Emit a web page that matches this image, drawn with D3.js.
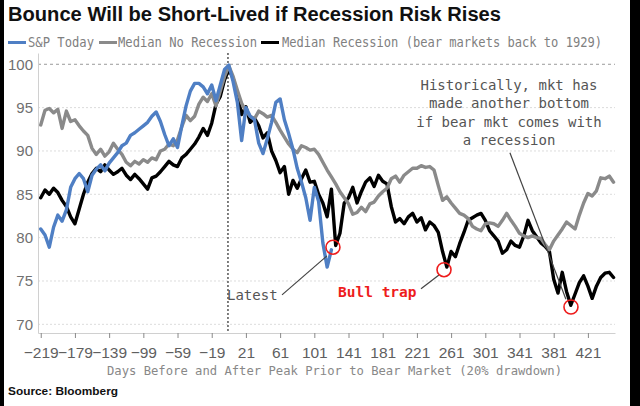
<!DOCTYPE html>
<html><head><meta charset="utf-8">
<script src="https://cdn.jsdelivr.net/npm/d3@7/dist/d3.min.js"></script>
<style>html,body{margin:0;padding:0;background:#fff;}svg{display:block}</style>
</head><body><svg id="chart" width="640" height="406"></svg>
<script>
// ---- data ----
const startDay = -219, stepDays = 5;
const xTickValues = [-219,-179,-139,-99,-59,-19,21,61,101,141,181,221,261,301,341,381,421];
const yTickValues = [70,75,80,85,90,95,100];
const seriesNames = ["S&P Today","Median No Recession","Median Recession (bear markets back to 1929)"];
const spToday = [81.0,80.3,78.9,81.2,82.6,81.9,83.2,85.8,86.8,87.4,
 86.8,85.3,87.2,87.9,88.4,87.7,88.6,89.2,89.8,90.6,
 90.9,91.8,92.1,92.5,92.9,93.3,94.0,94.5,93.4,91.9,
 90.6,91.4,90.4,92.9,95.2,96.9,97.8,97.8,97.4,96.6,
 97.6,95.8,97.6,99.4,99.9,98.0,95.6,91.2,95.0,94.0,
 93.6,90.9,89.7,91.4,93.3,95.6,96.0,93.6,92.0,90.2,
 88.0,86.4,84.6,82.0,85.8,84.2,79.4,76.6,78.6];
const medianNoRecession = [93.0,94.7,94.9,94.4,94.8,92.6,94.6,93.4,93.6,92.9,
 92.3,91.8,90.3,89.6,90.2,89.4,89.9,90.9,90.2,89.6,
 88.7,88.3,88.8,88.5,89.0,88.7,89.2,89.0,90.0,90.2,
 90.8,90.6,91.3,92.8,94.1,93.5,94.0,95.4,96.2,95.7,
 96.6,95.2,96.9,98.6,99.8,98.6,97.0,95.5,94.6,94.0,
 93.7,94.6,94.3,93.9,94.1,93.3,92.4,91.6,90.8,90.2,
 89.8,90.6,90.4,90.1,90.2,89.6,88.7,87.8,87.0,86.2,
 85.3,84.6,83.9,82.7,82.9,83.5,83.0,83.9,84.1,84.8,
 85.3,85.7,86.8,87.1,86.4,87.2,87.6,88.0,88.0,88.3,
 88.1,88.2,87.8,86.0,84.3,84.7,84.0,83.4,82.8,82.6,
 82.2,81.3,81.0,80.8,81.6,81.7,81.6,81.3,82.0,82.8,
 82.0,81.3,80.5,80.2,80.0,80.2,80.0,79.9,79.2,78.6,
 79.6,80.3,81.0,81.8,81.4,81.0,82.6,84.0,85.1,84.8,
 85.4,86.9,86.8,87.1,86.4];
const medianRecession = [84.6,85.5,85.0,85.7,85.2,84.3,83.6,82.4,81.6,83.3,
 85.0,86.4,87.4,88.0,87.6,88.4,87.8,87.3,87.6,88.0,
 87.2,86.7,87.3,86.8,86.2,85.6,86.9,87.1,87.6,88.2,
 88.8,88.4,88.2,89.2,89.6,90.2,90.8,91.6,92.6,91.8,
 93.2,95.4,96.3,98.2,99.4,98.4,96.4,94.2,95.1,93.3,
 93.8,92.9,91.5,92.1,90.0,88.9,87.5,88.2,85.0,86.6,
 85.7,86.8,87.8,86.4,86.5,85.0,84.0,82.4,85.6,79.1,
 80.5,84.0,84.6,85.8,84.0,85.3,86.4,86.9,85.9,87.2,
 86.5,86.2,83.6,81.8,82.2,81.6,82.4,82.8,81.8,82.3,
 80.9,81.8,81.4,80.6,78.4,76.6,78.4,77.8,79.3,80.6,
 82.0,82.3,82.6,82.8,82.0,80.8,80.2,79.6,78.2,78.6,
 79.6,79.1,78.9,80.2,82.0,80.8,80.1,79.4,79.0,78.4,
 75.2,73.6,76.0,73.8,72.2,73.5,74.8,75.6,74.4,73.0,
 74.4,75.4,75.9,76.0,75.4];
// annotation anchors (day, value)
const circleDays = [122.8, 252.7, 401.2];
const circleVals = [78.9, 76.3, 72.0];
const noteLines = [
  [[63.2,73.4],[115.8,77.9]],
  [[225.8,74.1],[246.8,75.7]],
  [[329.8,89.8],[395.3,72.9]]
];
const histText = ["Historically, mkt has","made another bottom","if bear mkt comes with","a recession"];
const histVals = [97.03,94.90,92.76,90.63];

// ---- layout ----
const svg = d3.select("#chart");
const W = 640, H = 406;
const plot = {left:38, right:615, top:53, bottom:333};
const x = d3.scaleLinear().domain([-222.2, 452.7]).range([plot.left, plot.right]);
const y = d3.scaleLinear().domain([69, 101.3]).range([plot.bottom, plot.top]);
const mono = "'DejaVu Sans Mono','Liberation Mono',monospace";
const sans = "'Liberation Sans',Arial,sans-serif";

svg.append("rect").attr("width",W).attr("height",H).attr("fill","#fff");

// gridlines
svg.append("g").selectAll("line").data(yTickValues).join("line")
  .attr("x1",plot.left).attr("x2",plot.right)
  .attr("y1",d=>y(d)).attr("y2",d=>y(d))
  .attr("stroke",d=>d===100?"#9a9a9a":"#dcdcdc")
  .attr("stroke-width",1)
  .attr("stroke-dasharray",d=>d===100?"3,3":"2,2");

// axes
const yAxis = svg.append("g").attr("transform",`translate(${plot.left},0)`)
  .call(d3.axisLeft(y).tickValues(yTickValues).tickSize(0).tickPadding(5).tickFormat(d3.format("d")));
yAxis.select(".domain").attr("stroke","#d0d0d0");
yAxis.selectAll("text").attr("font-family",sans).attr("font-size",15).attr("fill","#707070");

const xAxis = svg.append("g").attr("transform",`translate(0,${plot.bottom})`)
  .call(d3.axisBottom(x).tickValues(xTickValues).tickSize(5).tickPadding(9).tickSizeOuter(0));
xAxis.select(".domain").attr("stroke","#d0d0d0");
xAxis.selectAll(".tick line").attr("stroke","#8a8a8a");
xAxis.selectAll("text").attr("font-family",sans).attr("font-size",15.5).attr("fill","#5f5f5f");

// day 0 line
svg.append("line").attr("x1",x(0)).attr("x2",x(0)).attr("y1",plot.top).attr("y2",plot.bottom)
  .attr("stroke","#555").attr("stroke-width",1.5).attr("stroke-dasharray","2,2");

// series
const days = n => d3.range(n).map(i => startDay + i*stepDays);
const line = d3.line().x(d=>x(d[0])).y(d=>y(d[1]));
const draw = (vals, color, w) => svg.append("path")
  .datum(d3.zip(days(vals.length), vals))
  .attr("d",line).attr("fill","none").attr("stroke",color)
  .attr("stroke-width",w).attr("stroke-linejoin","round").attr("stroke-linecap","round");
draw(medianRecession, "#000000", 3.4);
draw(medianNoRecession, "#8a8a8a", 3.4);
draw(spToday, "#4f7fc4", 3.4);

// annotations
svg.append("g").selectAll("line").data(noteLines).join("line")
  .attr("x1",d=>x(d[0][0])).attr("y1",d=>y(d[0][1]))
  .attr("x2",d=>x(d[1][0])).attr("y2",d=>y(d[1][1]))
  .attr("stroke","#444").attr("stroke-width",1.2);
svg.append("g").selectAll("circle").data(d3.zip(circleDays,circleVals)).join("circle")
  .attr("cx",d=>x(d[0])).attr("cy",d=>y(d[1])).attr("r",7)
  .attr("fill","none").attr("stroke","#ee1c1c").attr("stroke-width",1.6);

svg.append("text").attr("x",x(-1.1)).attr("y",y(72.8)).text("Latest")
  .attr("font-family",mono).attr("font-size",14).attr("fill","#555");
svg.append("text").attr("x",x(128.7)).attr("y",y(73.15)).text("Bull trap")
  .attr("font-family",mono).attr("font-size",14.5).attr("font-weight","bold").attr("fill","#ee1c1c");
svg.append("g").selectAll("text").data(d3.zip(histText,histVals)).join("text")
  .attr("x",x(328.7)).attr("y",d=>y(d[1])).attr("text-anchor","middle")
  .attr("font-family",mono).attr("font-size",14).attr("fill","#555").text(d=>d[0]);

// title & legend
svg.append("text").attr("x",8).attr("y",21).text("Bounce Will be Short-Lived if Recession Risk Rises")
  .attr("font-family",sans).attr("font-weight","bold").attr("font-size",20)
  .attr("textLength",493).attr("lengthAdjust","spacingAndGlyphs").attr("fill","#111");
const legColors = ["#4f7fc4","#8a8a8a","#000000"];
const legSw = [8,99,261], legTx = [28,118,282], legW = [66,139,320];
seriesNames.forEach((s,i)=>{
  svg.append("rect").attr("x",legSw[i]).attr("y",41).attr("width",18).attr("height",3).attr("fill",legColors[i]);
  svg.append("text").attr("x",legTx[i]).attr("y",47).text(s)
    .attr("font-family",mono).attr("font-size",13.5).attr("fill","#808080")
    .attr("textLength",legW[i]).attr("lengthAdjust","spacingAndGlyphs");
});

// axis title & source
svg.append("text").attr("x",(plot.left+plot.right)/2+8).attr("y",375).attr("text-anchor","middle")
  .text("Days Before and After Peak Prior to Bear Market (20% drawdown)")
  .attr("font-family",mono).attr("font-size",12.5).attr("fill","#888")
  .attr("textLength",455).attr("lengthAdjust","spacingAndGlyphs");
svg.append("text").attr("x",8).attr("y",395).text("Source: Bloomberg")
  .attr("font-family",sans).attr("font-weight","bold").attr("font-size",11.5).attr("fill","#111")
  .attr("textLength",110).attr("lengthAdjust","spacingAndGlyphs");

// frame strips
svg.append("rect").attr("x",0).attr("y",0).attr("width",4).attr("height",H).attr("fill","#000");
svg.append("rect").attr("x",630).attr("y",0).attr("width",10).attr("height",H).attr("fill","#000");
</script></body></html>
